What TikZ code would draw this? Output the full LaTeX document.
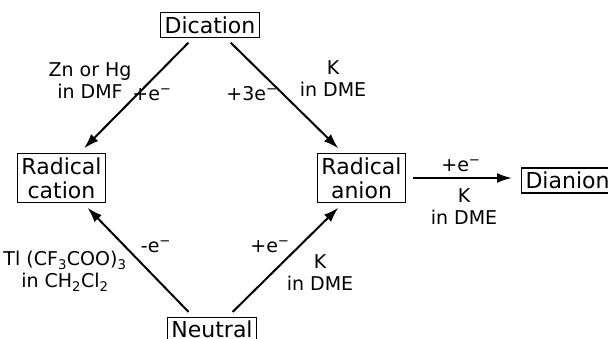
\documentclass[tikz,border=0pt]{standalone}
\usepackage{fontspec}
\setmainfont{DejaVu Sans}
\usetikzlibrary{arrows.meta}
\tikzset{
  species/.style={draw, line width=1.1pt, inner xsep=4pt, inner ysep=4pt, align=center,
    font=\fontsize{22}{24}\selectfont},
  cond/.style={inner sep=0pt, align=center, font=\fontsize{19}{22}\selectfont},
  arr/.style={-{Latex[length=15pt,width=10pt]}, line width=2pt, shorten <=6.5pt, shorten >=6.5pt}
}
\begin{document}
\begin{tikzpicture}[x=1pt,y=-1pt]
    \useasboundingbox (0,0) rectangle (608,338);

    % Species
    \node[species] (dic) at (210,25) {Dication};
    \node[species] (rcat) at (61.5,178) {Radical\\cation};
    \node[species] (ran) at (361.5,178) {Radical\\anion};
    \node[species, anchor=west] (dia) at (521,180.5) {Dianion};
    \node[species, anchor=north] (neu) at (212,316.5) {Neutral};

    % Reactions
    \draw[arr] ([xshift=-17pt]dic.south) -- ([xshift=18pt]rcat.north);
    \draw[arr] ([xshift=16pt]dic.south) -- ([xshift=-18.5pt]ran.north);
    \draw[arr] ([xshift=-19pt]neu.north) -- ([xshift=21.5pt]rcat.south);
    \draw[arr] ([xshift=16pt]neu.north) -- ([xshift=-18.5pt]ran.south);
    \draw[arr, shorten <=7pt, shorten >=9pt] (ran.east) -- (ran.east -| dia.west);

    % Conditions
    \node[cond] (c1) at (90,81) {Zn or Hg\\in DMF};
    \node[cond, anchor=base] (e1) at (152,100) {+e\textsuperscript{−}};
    \node[cond, anchor=base] (e2) at (252,100) {+3e\textsuperscript{−}};
    \node[cond] (c2) at (333,79) {K\\in DME};
    \node[cond, anchor=base] (e3) at (461,171) {+e\textsuperscript{−}};
    \node[cond] (c3) at (464,207) {K\\in DME};
    \node[cond, anchor=base] (e4) at (156,252) {-e\textsuperscript{−}};
    \node[cond, anchor=base] (e5) at (270,252) {+e\textsuperscript{−}};
    \node[cond] (c4) at (65,271) {Tl (CF\textsubscript{3}COO)\textsubscript{3}\\in CH\textsubscript{2}Cl\textsubscript{2}};
    \node[cond] (c5) at (320,273) {K\\in DME};
\end{tikzpicture}
\end{document}
